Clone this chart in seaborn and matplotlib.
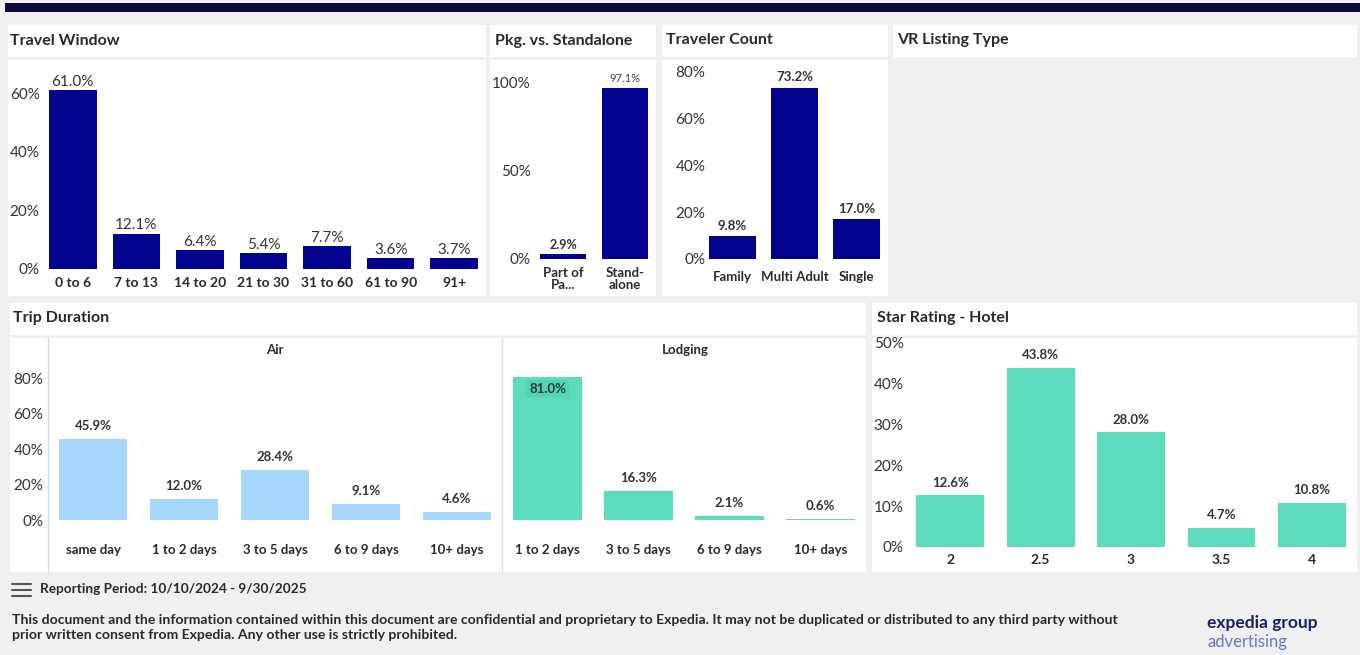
import matplotlib
matplotlib.use("Agg")
import matplotlib.pyplot as plt
import seaborn as sns
from matplotlib.patches import Rectangle
from matplotlib.lines import Line2D

# ---- data ----
travel_cats = ["0 to 6", "7 to 13", "14 to 20", "21 to 30", "31 to 60", "61 to 90", "91+"]
travel_vals = [61.0, 12.1, 6.4, 5.4, 7.7, 3.6, 3.7]

pkg_cats = ["Part of\nPa...", "Stand-\nalone"]
pkg_vals = [2.9, 97.1]

trav_cats = ["Family", "Multi Adult", "Single"]
trav_vals = [9.8, 73.2, 17.0]

air_cats = ["same day", "1 to 2 days", "3 to 5 days", "6 to 9 days", "10+ days"]
air_vals = [45.9, 12.0, 28.4, 9.1, 4.6]

lodg_cats = ["1 to 2 days", "3 to 5 days", "6 to 9 days", "10+ days"]
lodg_vals = [81.0, 16.3, 2.1, 0.6]

star_cats = ["2", "2.5", "3", "3.5", "4"]
star_vals = [12.6, 43.8, 28.0, 4.7, 10.8]

NAVY = "#03038f"
AIR = "#a7d7fb"
TEAL = "#5cdcbc"
BG = "#f0f0f0"
TXT = "#2a2a2a"

sns.set_style("white")
plt.rcParams["font.family"] = ["Lato", "DejaVu Sans"]

W, H = 1360, 655
fig = plt.figure(figsize=(W / 100, H / 100), dpi=100)
fig.patch.set_facecolor(BG)


def panel(x0, y0, x1, y1, color="white"):
    fig.add_artist(Rectangle((x0 / W, 1 - y1 / H), (x1 - x0) / W, (y1 - y0) / H,
                             transform=fig.transFigure, color=color, zorder=0, lw=0))


def ftext(x, y, s, **kw):
    kw.setdefault("va", "center")
    kw.setdefault("color", TXT)
    fig.text(x / W, 1 - y / H, s, **kw)


def vline(x, y0, y1, color="#dcdcdc", lw=1):
    fig.add_artist(Line2D([x / W, x / W], [1 - y0 / H, 1 - y1 / H],
                          transform=fig.transFigure, color=color, lw=lw))


def make_ax(x0, y0, x1, y1):
    ax = fig.add_axes([x0 / W, 1 - y1 / H, (x1 - x0) / W, (y1 - y0) / H])
    ax.set_facecolor("none")
    for s in ax.spines.values():
        s.set_visible(False)
    ax.tick_params(length=0)
    return ax


def bars(ax, cats, vals, color, ymax, yticks, tsize=11, xsize=9.5, xpad=5, ypad=1, xweight="bold"):
    sns.barplot(x=cats, y=vals, color=color, width=0.75, saturation=1, ax=ax, linewidth=0)
    ax.set_xlim(-0.5, len(cats) - 0.5)
    ax.set_ylim(0, ymax)
    ax.set_xlabel("")
    ax.set_ylabel("")
    if yticks is None:
        ax.set_yticks([])
    else:
        ax.set_yticks(yticks)
        ax.set_yticklabels([f"{t}%" for t in yticks], fontsize=tsize, color="#333")
    ax.tick_params(axis="y", pad=ypad)
    ax.tick_params(axis="x", pad=xpad, labelsize=xsize, labelcolor=TXT)
    for lab in ax.get_xticklabels():
        lab.set_fontweight(xweight)


# top bar
panel(5, 3, 1360, 12, "#0b0b3b")

# panels
panel(8, 25, 486, 57); panel(8, 60, 486, 296)
panel(490, 25, 656, 57); panel(490, 60, 656, 296)
panel(662, 25, 888, 57); panel(662, 60, 888, 296)
panel(893, 25, 1357, 57)
panel(10, 303, 866, 335); panel(10, 338, 866, 572)
panel(872, 303, 1357, 335); panel(872, 338, 1357, 572)

ftext(10, 41, "Travel Window", fontsize=11.5, fontweight="bold")
ftext(495, 41, "Pkg. vs. Standalone", fontsize=11.5, fontweight="bold")
ftext(666, 40, "Traveler Count", fontsize=11.5, fontweight="bold")
ftext(897, 40, "VR Listing Type", fontsize=11.5, fontweight="bold")
ftext(13, 318, "Trip Duration", fontsize=11.5, fontweight="bold")
ftext(877, 318, "Star Rating - Hotel", fontsize=11.5, fontweight="bold")

# Travel Window
ax = make_ax(41, 70, 486, 269)
bars(ax, travel_cats, travel_vals, NAVY, 67.9, [0, 20, 40, 60], xpad=6, xsize=10)
ax.bar_label(ax.containers[0], labels=[f"{v:.1f}%" for v in travel_vals],
             padding=1, fontsize=11, color="#333")

# Pkg vs Standalone
ax = make_ax(532, 65, 656, 259)
bars(ax, pkg_cats, pkg_vals, NAVY, 110, [0, 50, 100], xpad=6, xsize=9.5)
for lab in ax.get_xticklabels():
    lab.set_linespacing(1.0)
ax.bar_label(ax.containers[0], labels=["2.9%", ""], padding=2, fontsize=9,
             fontweight="bold", color="#333")
ax.bar_label(ax.containers[0], labels=["", "97.1%"], padding=3, fontsize=8,
             color="#444")

# Traveler Count
ax = make_ax(701, 60, 888, 259)
bars(ax, trav_cats, trav_vals, NAVY, 85, [0, 20, 40, 60, 80], xpad=9, xsize=9.5, ypad=-3)
ax.axhline(0, color="#cccccc", lw=0.8, ls=":")
ax.bar_label(ax.containers[0], labels=[f"{v:.1f}%" for v in trav_vals],
             padding=3, fontsize=9.5, fontweight="bold", color="#333")

# Trip Duration
vline(48, 338, 572)
vline(502, 338, 572)
ax = make_ax(47.5, 362, 502.5, 520)
bars(ax, air_cats, air_vals, AIR, 89.3, [0, 20, 40, 60, 80], xpad=17, xsize=9.5, ypad=3)
ax.bar_label(ax.containers[0], labels=[f"{v:.1f}%" for v in air_vals],
             padding=5, fontsize=9.5, fontweight="bold", color="#333")
ftext(275, 350, "Air", fontsize=9.5, fontweight="bold", ha="center")

ax = make_ax(502, 362, 866, 520)
bars(ax, lodg_cats, lodg_vals, TEAL, 89.3, None, xpad=17, xsize=9.5)
ax.bar_label(ax.containers[0], labels=[""] + [f"{v:.1f}%" for v in lodg_vals[1:]],
             padding=5, fontsize=9.5, fontweight="bold", color="#333")
ax.bar_label(ax.containers[0], labels=[f"{lodg_vals[0]:.1f}%", "", "", ""],
             padding=-13, fontsize=9.5, fontweight="bold", color="#333",
             bbox=dict(boxstyle="square,pad=0.2", fc="#4fd6b2", ec="none"))
ftext(685, 350, "Lodging", fontsize=9.5, fontweight="bold", ha="center")

# Star Rating
ax = make_ax(905, 338, 1357, 547)
bars(ax, star_cats, star_vals, TEAL, 51.1, [0, 10, 20, 30, 40, 50], xpad=5, xsize=10, ypad=1)
ax.bar_label(ax.containers[0], labels=[f"{v:.1f}%" for v in star_vals],
             padding=5, fontsize=9.5, fontweight="bold", color="#333")

# footer
for yy in (584, 590, 596):
    fig.add_artist(Line2D([12 / W, 31 / W], [1 - yy / H, 1 - yy / H],
                          transform=fig.transFigure, color="#555", lw=1.5))
ftext(40, 589, "Reporting Period: 10/10/2024 - 9/30/2025", fontsize=9.8, fontweight="bold")
ftext(12, 620, "This document and the information contained within this document are confidential "
      "and proprietary to Expedia. It may not be duplicated or distributed to any third party without",
      fontsize=10.1, fontweight="bold")
ftext(12, 635, "prior written consent from Expedia. Any other use is strictly prohibited.",
      fontsize=10.1, fontweight="bold")
ftext(1207, 623, "expedia group", fontsize=12.5, fontweight="bold", color="#1c1f6e")
ftext(1207, 642, "advertising", fontsize=12, color="#6a72d9")

fig.savefig("out.png", dpi=100, facecolor=fig.get_facecolor())
